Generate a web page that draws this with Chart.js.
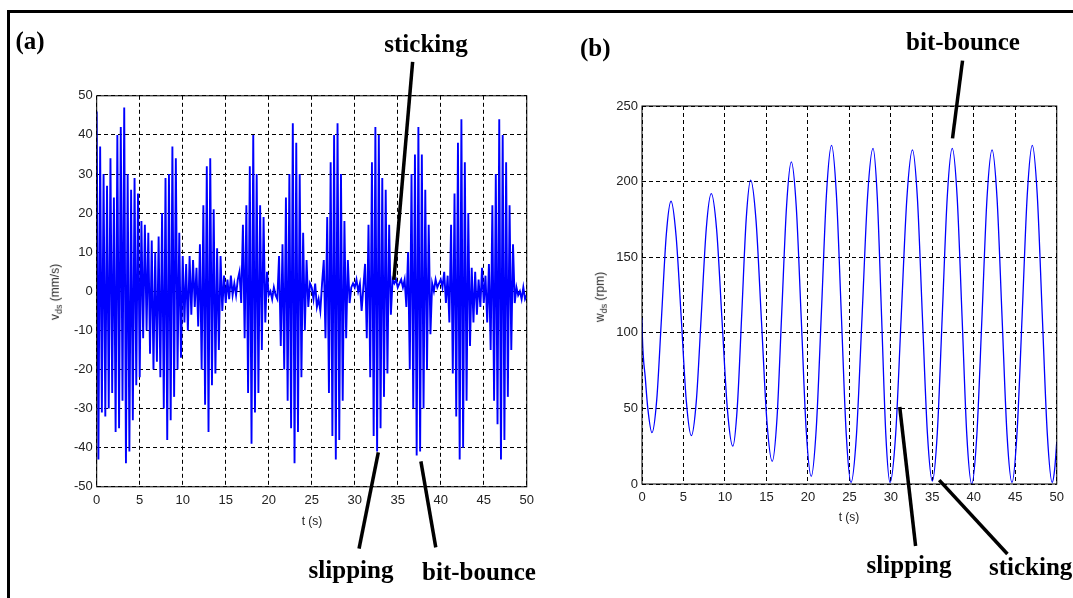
<!DOCTYPE html>
<html lang="en">
<head>
<meta charset="UTF-8">
<title>Drill string vibrations</title>
<script src="https://cdn.jsdelivr.net/npm/chart.js"></script>
<style>
  body, html { margin: 0; padding: 0; background: #fff; }
  #page { position: relative; width: 1073px; height: 598px; overflow: hidden; }
  .frameTop { position: absolute; left: 7px; top: 10px; width: 1066px; height: 2.5px; background: #000; }
  .frameLeft { position: absolute; left: 7px; top: 10px; width: 2.5px; height: 588px; background: #000; }
  canvas { position: absolute; }
  .note { position: absolute; font: bold 25px "Liberation Serif", "Times New Roman", serif; line-height: 25px; white-space: nowrap; color: #000; }
  .note.c { transform: translateX(-50%); }
  .axisTitle { position: absolute; font: 12px "Liberation Sans", Arial, sans-serif; color: #222; white-space: nowrap; transform: translate(-50%, -50%); }
  .axisTitle.rot { transform: translate(-50%, -50%) rotate(-90deg); }
  .axisTitle sub { font-size: 9px; }
</style>
</head>
<body>
<div id="page">
  <div class="frameTop"></div>
  <div class="frameLeft"></div>

  <canvas id="chartA" width="500" height="520" style="left:40px; top:40px;"></canvas>
  <canvas id="chartB" width="485" height="530" style="left:585px; top:40px;"></canvas>

  <div class="note" style="left:15.5px; top:27.5px;">(a)</div>
  <div class="note c" style="left:426px; top:31px;">sticking</div>
  <div class="note c" style="left:351px; top:557px;">slipping</div>
  <div class="note c" style="left:479px; top:559px;">bit-bounce</div>

  <div class="note" style="left:580px; top:34.5px;">(b)</div>
  <div class="note c" style="left:963px; top:29px;">bit-bounce</div>
  <div class="note c" style="left:909px; top:552px;">slipping</div>
  <div class="note" style="left:989px; top:554px;">sticking</div>

  <div class="axisTitle" style="left:312px; top:521px;">t (s)</div>
  <div class="axisTitle" style="left:849px; top:517px;">t (s)</div>
  <div class="axisTitle rot" style="left:56px; top:292px;">v<sub>ds</sub> (mm/s)</div>
  <div class="axisTitle rot" style="left:601px; top:297px;">w<sub>ds</sub> (rpm)</div>
</div>

<script>
// (a) downhole axial velocity, one sample every 0.2 s, rows of 1 s
const vdsStep = 0.2;
const vdsValue = [
  46, -43, 37, -31, 30,
  -32, 27, -30, 34, -26,
  24, -36, 40, -35, 42,
  -28, 47, -44, 30, -41,
  26, -33, 29, -24, 25,
  -22, 18, -12, 17, -10,
  15, -16, 13, -20, 10,
  -18, 14, -22, 20, -30,
  29, -38, 30, -33, 37,
  -27, 34, -20, 15, -17,
  9, -8, 7, -10, 9,
  -6, 8, -4, 6, -9,
  12, -20, 22, -29, 32,
  -36, 34, -24, 21, -21,
  11, -15, 9, -5, 4,
  -3, 3, -2, 4, -1,
  2, -1, 3, 5, -3,
  17, -12, 22, -26, 32,
  -39, 40, -31, 30, -26,
  22, -15, 19, -8, 5,
  -1, 0, -2, 1, -1,
  -2, 9, -14, 12, -20,
  24, -28, 30, -35, 43,
  -44, 38, -36, 30, -22,
  15, -10, 8, -4, 2,
  1, -2, 2, -4, -2,
  -5, 2, 8, -12, 19,
  -26, 33, -37, 40, -43,
  43, -38, 30, -28, 18,
  -12, 8, -3, 1, 2,
  1, 3, 0, 2, -5,
  1, 7, -12, 17, -22,
  33, -37, 42, -41, 40,
  -35, 29, -27, 26, -21,
  17, -6, 3, 2, 3,
  1, 2, 3, 1, 3,
  -4, 10, -20, 30, -30,
  35, -42, 42, -41, 35,
  -30, 26, -20, 17, -11,
  2, 0, 3, 1, 2,
  3, 1, 5, -3, 4,
  -8, 17, -21, 25, -32,
  38, -43, 44, -40, 33,
  -28, 20, -14, 6, -8,
  5, -6, 3, -4, 6,
  -3, 4, -8, 7, -15,
  22, -28, 30, -34, 44,
  -43, 40, -38, 33, -27,
  22, -15, 12, -3, 1,
  -1, 0, -2, 1, -2,
  -1
];

// (b) downhole angular velocity, read at turning points and in between
const wdsTime = [
  0, 0.05, 0.4, 0.7, 1.2,
  1.78, 2.35, 2.93, 3.5,
  4.11, 4.73, 5.34, 5.95,
  6.55, 7.15, 7.75, 8.35,
  9.0, 9.65, 10.3, 10.95,
  11.49, 12.03, 12.56, 13.1,
  13.75, 14.4, 15.05, 15.7,
  16.28, 16.85, 17.43, 18.0,
  18.6, 19.2, 19.8, 20.4,
  21.01, 21.63, 22.24, 22.85,
  23.44, 24.03, 24.61, 25.2,
  25.86, 26.53, 27.19, 27.85,
  28.36, 28.88, 29.39, 29.9,
  30.58, 31.25, 31.93, 32.6,
  33.2, 33.8, 34.4, 35.0,
  35.6, 36.2, 36.8, 37.4,
  37.99, 38.58, 39.16, 39.75,
  40.36, 40.98, 41.59, 42.2,
  42.8, 43.4, 44.0, 44.6,
  45.21, 45.83, 46.44, 47.05,
  47.65, 48.25, 48.85, 49.45,
  49.75, 50
];
const wdsValue = [
  110, 97, 70, 50, 34,
  56, 110, 165, 187,
  164, 110, 55, 32,
  55, 112, 169, 192,
  168, 108, 49, 25,
  51, 113, 175, 201,
  174, 108, 42, 15,
  44, 114, 184, 213,
  183, 109, 35, 5,
  37, 114, 192, 224,
  191, 112, 34, 1,
  33, 111, 190, 222,
  190, 111, 33, 1,
  33, 111, 189, 221,
  189, 111, 34, 2,
  34, 112, 190, 222,
  190, 111, 32, 0,
  32, 110, 189, 221,
  189, 111, 33, 1,
  34, 112, 191, 224,
  191, 112, 34, 1,
  10, 28
];

const xTicks = { min: 0, max: 50, step: 5 };
const yTicksA = { min: -50, max: 50, step: 10 };
const yTicksB = { min: 0, max: 250, step: 50 };

// annotation pointers in data units: [t1, v1, t2, v2]
const pointersA = [[36.73, 58.7, 34.55, 2.9], [32.74, -41.2, 30.5, -65.8], [37.69, -43.5, 39.42, -65.5]];
const pointersB = [[38.64, 280, 37.43, 228.6], [31.07, 50.9, 32.98, -41], [35.83, 2.6, 44.05, -46.3]];

const tickFont = { family: '"Liberation Sans", Arial, sans-serif', size: 13 };

const boxAndPointers = {
  id: 'boxAndPointers',
  afterDraw(chart, args, opts) {
    const { ctx, chartArea: a, scales: { x, y } } = chart;
    ctx.save();
    ctx.setLineDash([]);
    ctx.strokeStyle = '#000';
    ctx.lineWidth = 1;
    ctx.strokeRect(a.left, a.top, a.right - a.left, a.bottom - a.top);
    ctx.lineWidth = 3.5;
    (opts.pointers || []).forEach(([t1, v1, t2, v2]) => {
      ctx.beginPath();
      ctx.moveTo(x.getPixelForValue(t1), y.getPixelForValue(v1));
      ctx.lineTo(x.getPixelForValue(t2), y.getPixelForValue(v2));
      ctx.stroke();
    });
    ctx.restore();
  }
};

function makeChart(id, points, yRange, pad, yWidth, xHeight, pointers, smooth, lineWidth) {
  return new Chart(document.getElementById(id), {
    type: 'line',
    data: {
      datasets: [{
        data: points,
        borderColor: '#0000ff',
        borderWidth: lineWidth,
        pointRadius: 0,
        fill: false,
        tension: 0,
        cubicInterpolationMode: smooth ? 'monotone' : 'default'
      }]
    },
    options: {
      responsive: false,
      animation: false,
      devicePixelRatio: 1,
      layout: { padding: pad },
      plugins: {
        legend: { display: false },
        tooltip: { enabled: false },
        boxAndPointers: { pointers: pointers }
      },
      scales: {
        x: {
          type: 'linear',
          min: xTicks.min,
          max: xTicks.max,
          afterFit: (s) => { s.height = xHeight; },
          ticks: { stepSize: xTicks.step, padding: 6, color: '#222', font: tickFont, maxRotation: 0, autoSkip: false },
          grid: { color: '#000', lineWidth: 1, drawTicks: false },
          border: { display: false, dash: [4, 3] }
        },
        y: {
          min: yRange.min,
          max: yRange.max,
          afterFit: (s) => { s.width = yWidth; },
          ticks: { stepSize: yRange.step, padding: 4, color: '#222', font: tickFont, autoSkip: false },
          grid: { color: '#000', lineWidth: 1, drawTicks: false },
          border: { display: false, dash: [4, 3] }
        }
      }
    },
    plugins: [boxAndPointers]
  });
}

const vdsPoints = vdsValue.map((v, i) => ({ x: i * vdsStep, y: v }));
const wdsPoints = wdsTime.map((t, i) => ({ x: t, y: wdsValue[i] }));

makeChart('chartA', vdsPoints, yTicksA, { top: 55.8, right: 7.7, left: 0, bottom: 0 }, 56.7, 73.2, pointersA, false, 1.9);
makeChart('chartB', wdsPoints, yTicksB, { top: 66, right: 7.7, left: 0, bottom: 0 }, 57, 86, pointersB, true, 1.3);
</script>
</body>
</html>
